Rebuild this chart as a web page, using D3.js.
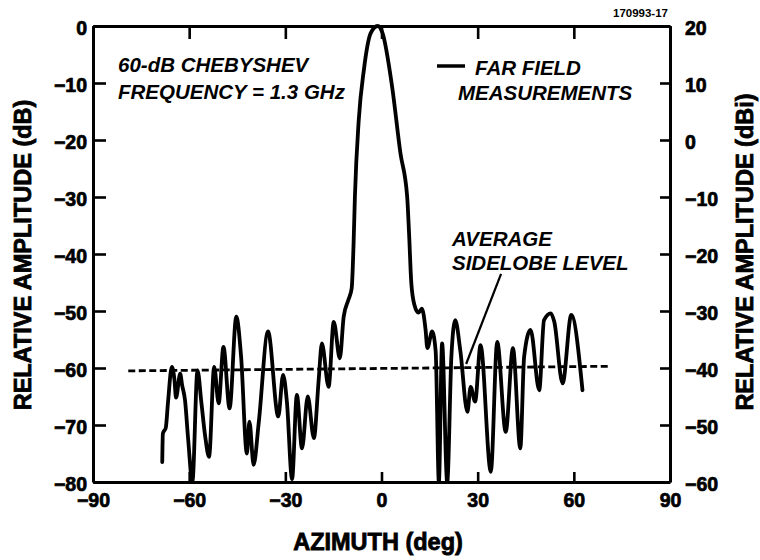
<!DOCTYPE html>
<html>
<head>
<meta charset="utf-8">
<script src="https://cdn.jsdelivr.net/npm/d3@7"></script>
<style>
  html, body { margin: 0; padding: 0; background: #fff; }
  svg { display: block; }
  text { font-family: "Liberation Sans", Arial, sans-serif; fill: #000; }
</style>
</head>
<body>
<svg id="chart" width="760" height="560"></svg>
<script>
// ---- data ----
const azimuth = [-68.4,-68.2,-67.3,-66.6,-65.4,-64.6,-64.1,-62.8,-62.2,-61.3,-60.3,-59.0,
  -57.4,-56.2,-55.0,-53.8,-52.2,-50.8,-49.3,-47.4,-45.3,-43.8,-42.0,-41.2,-39.9,-38.3,
  -35.4,-32.2,-30.7,-29.5,-27.9,-26.4,-24.8,-23.0,-21.1,-19.6,-18.6,-16.5,-14.9,-13.0,
  -11.8,-10.3,-9.3,-8.7,-8.3,-7.1,-5.5,-3.4,-1.2,0.3,3.3,5.9,8.0,8.6,9.3,10.3,11.5,12.6,
  13.75,14.3,15.8,16.9,17.9,18.9,20.5,21.8,23.0,24.6,26.8,27.8,29.2,30.9,34.1,36.1,38.75,
  41.0,43.3,44.5,46.5,49.2,50.7,52.8,53.9,56.5,59.2,62.7];
const amplitude = [-76.5,-71.5,-70.5,-66,-59.8,-62,-65.2,-61.0,-63,-65.6,-72.6,-80,
  -60.4,-66,-72,-75.6,-59.8,-66.2,-56.3,-67.1,-51.0,-58,-75,-69.4,-77,-69.6,
  -53.6,-68.5,-61.2,-66,-79.5,-64.7,-74.1,-65,-72.3,-62.1,-55.7,-63.3,-51.9,-58.3,
  -51,-48,-46,-38,-30,-16.5,-7.7,-1.3,0,-1.2,-10.6,-22.3,-29.9,-36.4,-45.1,-49.0,-50.3,-49.6,
  -53.3,-56.5,-53.6,-57.1,-80,-55.7,-80,-58,-51.6,-57,-67.7,-63.3,-65.9,-56,-78.2,-55.4,-71.2,
  -56.5,-74.1,-58,-53.3,-63.9,-51.6,-50.4,-51.9,-62.7,-50.7,-63.9];
const sidelobeAz = [-79, 71];
const sidelobeDb = [-60.5, -59.7];
const xTicks = [-90, -60, -30, 0, 30, 60, 90];
const yTicksLeft = [0, -10, -20, -30, -40, -50, -60, -70, -80];
const yTicksRight = [20, 10, 0, -10, -20, -30, -40, -50, -60];
const pointerAz = [37.3, 26.4];
const pointerDb = [-43.5, -59.3];

// ---- layout ----
const svg = d3.select("#chart");
const pL = 93, pR = 670, pT = 26, pB = 482;
const x = d3.scaleLinear().domain([-90, 90]).range([pL, pR]);
const y = d3.scaleLinear().domain([-80, 0]).range([pB, pT]);
const y2 = d3.scaleLinear().domain([-60, 20]).range([pB, pT]);

svg.append("rect").attr("width", 760).attr("height", 560).attr("fill", "#fff");

const tickFont = g => {
  g.selectAll("text").attr("font-size", 19.5).attr("font-weight", 700)
    .attr("font-family", '"Liberation Sans", Arial, sans-serif').attr("fill", "#000")
    .attr("stroke", "#000").attr("stroke-width", 0.7);
  g.selectAll("line").attr("stroke", "#000").attr("stroke-width", 2.6);
  g.select(".domain").attr("stroke", "#000").attr("stroke-width", 3);
};

// left axis
svg.append("g").attr("transform", `translate(${pL},0)`)
  .call(d3.axisLeft(y).tickValues(yTicksLeft).tickSize(-13).tickSizeOuter(0).tickPadding(6))
  .call(tickFont)
  .call(g => g.selectAll("text").attr("dy", "0.45em"));
// right axis
svg.append("g").attr("transform", `translate(${pR},0)`)
  .call(d3.axisRight(y2).tickValues(yTicksRight).tickSize(-10).tickSizeOuter(0).tickPadding(15))
  .call(tickFont)
  .call(g => g.selectAll("text").attr("dy", "0.42em"));
// bottom axis
svg.append("g").attr("transform", `translate(0,${pB})`)
  .call(d3.axisBottom(x).tickValues(xTicks).tickSize(-10).tickSizeOuter(0).tickPadding(11))
  .call(tickFont);
// top axis
svg.append("g").attr("transform", `translate(0,${pT})`)
  .call(d3.axisTop(x).tickValues(xTicks).tickSize(-13).tickSizeOuter(0).tickFormat(""))
  .call(tickFont);

// axis titles
const title = sel => sel.attr("text-anchor", "middle").attr("font-size", 23.5)
  .attr("font-weight", 700).attr("stroke", "#000").attr("stroke-width", 0.8);
svg.append("text").attr("transform", `translate(31,255) rotate(-90)`)
  .call(title).text("RELATIVE AMPLITUDE (dB)");
svg.append("text").attr("transform", `translate(753,252) rotate(-90)`)
  .call(title).text("RELATIVE AMPLITUDE (dBi)");
svg.append("text").attr("x", 378).attr("y", 550)
  .call(title).text("AZIMUTH (deg)");

// figure id
svg.append("text").attr("x", 668).attr("y", 17).attr("text-anchor", "end")
  .attr("font-size", 11.5).attr("font-weight", 700).text("170993-17");

// annotations
const ann = (tx, ty, s) => svg.append("text").attr("x", tx).attr("y", ty)
  .attr("font-size", 20.5).attr("font-weight", 700).attr("font-style", "italic").text(s);
ann(118, 72, "60-dB CHEBYSHEV");
ann(118, 99, "FREQUENCY = 1.3 GHz");
ann(475, 75, "FAR FIELD");
ann(458, 100, "MEASUREMENTS");
ann(452, 246, "AVERAGE");
ann(452, 270, "SIDELOBE LEVEL");
svg.append("line").attr("x1", 437).attr("x2", 465).attr("y1", 66).attr("y2", 66)
  .attr("stroke", "#000").attr("stroke-width", 3.5);

// sidelobe dashed line
const lineGen = d3.line().x(d => x(d[0])).y(d => y(d[1]));
svg.append("path").datum(d3.zip(sidelobeAz, sidelobeDb))
  .attr("d", lineGen).attr("fill", "none").attr("stroke", "#000")
  .attr("stroke-width", 2.8).attr("stroke-dasharray", "7,3.5");

// pointer line
svg.append("path").datum(d3.zip(pointerAz, pointerDb))
  .attr("d", lineGen).attr("fill", "none").attr("stroke", "#000").attr("stroke-width", 2.2);

// measured pattern
svg.append("clipPath").attr("id", "plot").append("rect")
  .attr("x", pL).attr("y", pT - 2).attr("width", pR - pL).attr("height", pB - pT + 2);
svg.append("path").datum(d3.zip(azimuth, amplitude))
  .attr("clip-path", "url(#plot)")
  .attr("d", d3.line().x(d => x(d[0])).y(d => y(d[1])).curve(d3.curveMonotoneX))
  .attr("fill", "none").attr("stroke", "#000").attr("stroke-width", 3.8)
  .attr("stroke-linejoin", "round").attr("stroke-linecap", "round");
</script>
</body>
</html>
